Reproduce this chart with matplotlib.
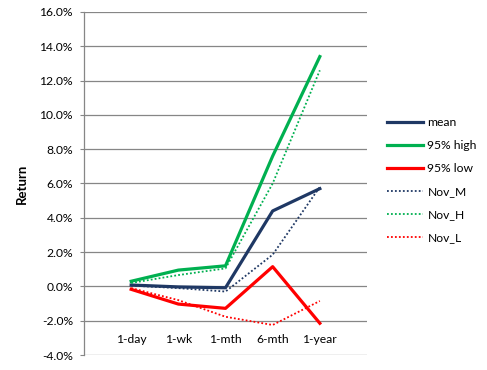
import matplotlib.pyplot as plt
from matplotlib.ticker import FuncFormatter

plt.rcParams['font.family'] = ['Lato', 'DejaVu Sans']

periods = ["1-day", "1-wk", "1-mth", "6-mth", "1-year"]
mean = [0.08, -0.03, -0.08, 4.4, 5.7]
high95 = [0.3, 0.95, 1.2, 7.6, 13.4]
low95 = [-0.17, -1.03, -1.28, 1.15, -2.15]
nov_m = [0.05, -0.1, -0.3, 1.85, 5.8]
nov_h = [0.2, 0.66, 1.05, 6.0, 12.6]
nov_l = [-0.1, -0.8, -1.77, -2.25, -0.85]

navy = "#1F3864"
green = "#00B050"
red = "#FF0000"

fig = plt.figure(figsize=(4.87, 3.7), dpi=100)
ax = fig.add_axes([84/487, 15/370, 283/487, 343/370])

x = range(len(periods))
ax.plot(x, mean, color=navy, lw=2.3, label="mean")
ax.plot(x, high95, color=green, lw=2.3, label="95% high")
ax.plot(x, low95, color=red, lw=2.3, label="95% low")
ax.plot(x, nov_m, color=navy, lw=1.3, ls=(0, (1, 1.2)), label="Nov_M")
ax.plot(x, nov_h, color=green, lw=1.3, ls=(0, (1, 1.2)), label="Nov_H")
ax.plot(x, nov_l, color=red, lw=1.3, ls=(0, (1, 1.2)), label="Nov_L")

ax.set_xlim(-1, 5)
ax.set_ylim(-4, 16)
ax.set_yticks(range(-4, 17, 2))
ax.yaxis.set_major_formatter(FuncFormatter(lambda v, p: f"{v:.1f}%"))
ax.set_xticks(list(x))
ax.set_xticklabels(periods)
ax.tick_params(axis='x', length=0, pad=-15, labelsize=8.7)
ax.tick_params(axis='y', length=3, color="#868686", pad=5, labelsize=8.7)

ax.grid(axis='y', color="#868686", lw=0.9)
ax.set_axisbelow(True)
for s in ["top", "right", "bottom"]:
    ax.spines[s].set_visible(False)
ax.spines["left"].set_color("#868686")
ax.spines["left"].set_linewidth(0.9)

ax.set_ylabel("Return", fontweight="bold", fontsize=9.5, labelpad=8)

ax.legend(loc="upper left", bbox_to_anchor=(387/487, 1 - 117/370),
          bbox_transform=fig.transFigure, frameon=False, fontsize=8.7,
          handlelength=3.0, handletextpad=0.35, labelspacing=1.0,
          borderpad=0, borderaxespad=0)

fig.savefig("out.png", dpi=100)
